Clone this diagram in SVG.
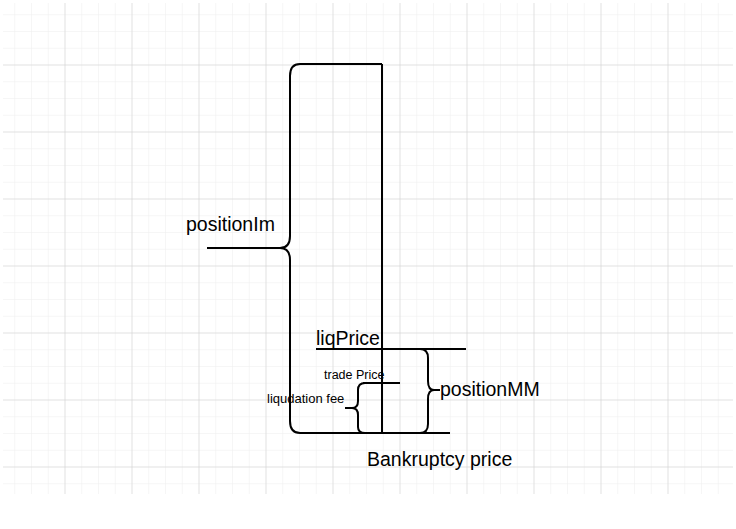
<svg xmlns="http://www.w3.org/2000/svg" width="736" height="529" viewBox="0 0 736 529">
<defs>
<pattern id="minor" x="-2.5" y="-2.5" width="16.75" height="16.75" patternUnits="userSpaceOnUse"><path d="M0 0H16.75M0 0V16.75" fill="none" stroke="#eeeeee" stroke-width="1"/></pattern>
<pattern id="major" x="-2.5" y="-2.5" width="67" height="67" patternUnits="userSpaceOnUse"><path d="M0 0H67M0 0V67" fill="none" stroke="#d0d0d0" stroke-width="1"/></pattern>
</defs>
<style>
.l{fill:none;stroke:#000;stroke-width:2}
.t{font-family:"Liberation Sans",Arial,sans-serif;fill:#000}
</style>
<rect width="736" height="529" fill="#fff"/>
<rect x="3" y="3" width="730" height="491" fill="url(#minor)"/>
<rect x="3" y="3" width="730" height="491" fill="url(#major)"/>
<g id="connectors">
<path class="l" d="M382 64V433"/>
<path class="l" d="M300 64H382"/>
<path class="l" d="M300 433H450"/>
<path class="l" d="M316 349H466"/>
<path class="l" d="M363 383H400"/>
</g>
<g id="braceIm"><path class="l" d="M300 64Q290 64 290 76V236Q290 248 280 248H207M280 248Q290 248 290 260V421Q290 433 300 433"/></g>
<g id="braceMM"><path class="l" d="M420 349Q428 349 428 358V381Q428 390 434 390H440M434 390Q428 390 428 399V424Q428 433 420 433"/></g>
<g id="braceFee"><path class="l" d="M365 383Q358 383 358 390V401Q358 408 352 408H345M352 408Q358 408 358 415V427Q358 433 365 433"/></g>
<g id="labels">
<text class="t" x="186" y="231" font-size="19.5">positionIm</text>
<text class="t" x="316" y="345" font-size="19.5">liqPrice</text>
<text class="t" x="440" y="396" font-size="19.5">positionMM</text>
<text class="t" x="324" y="379" font-size="12.5">trade Price</text>
<text class="t" x="267" y="403" font-size="13">liqudation fee</text>
<text class="t" x="367" y="466" font-size="19.5">Bankruptcy price</text>
</g>
</svg>
